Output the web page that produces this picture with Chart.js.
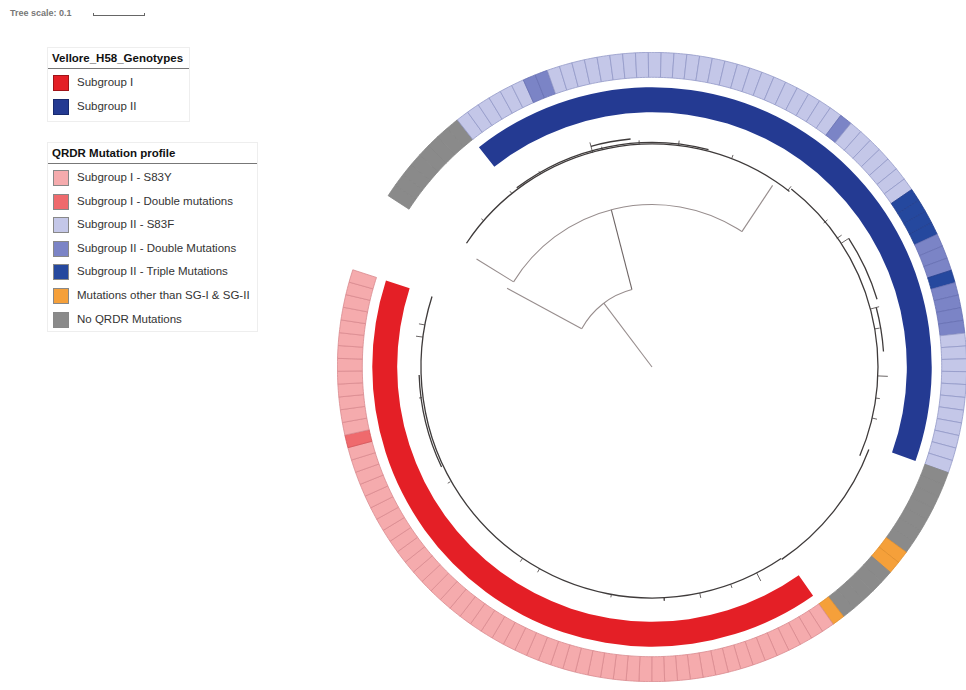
<!DOCTYPE html>
<html>
<head>
<meta charset="utf-8">
<script src="https://cdn.jsdelivr.net/npm/chart.js@4.4.1/dist/chart.umd.min.js"></script>
<style>
  html, body { margin: 0; padding: 0; background: #fff; }
  body { width: 966px; height: 690px; position: relative; overflow: hidden; font-family: "Liberation Sans", Arial, sans-serif; color: #333; }
  .stack { position: absolute; left: 337px; top: 52px; width: 630px; height: 630px; }
  .stack canvas { position: absolute; left: 0; top: 0; }
  #scale { position: absolute; left: 10px; top: 8px; font-size: 9px; font-weight: bold; color: #777; }
  #scale .bar { position: absolute; left: 83px; top: 5px; width: 50px; height: 2px; border-bottom: 1px solid #666; border-left: 1px solid #666; border-right: 1px solid #666; }
  .legend { position: absolute; border: 1px solid #eee; background: #fff; }
  .legend .title { font-size: 11.5px; font-weight: bold; color: #111; padding: 4px 0 4px 4px; border-bottom: 1.5px solid #777; margin-bottom: 2px; }
  .legend .item { position: relative; height: 23.6px; font-size: 11.5px; }
  .legend .sw { position: absolute; left: 5px; top: 4px; width: 14px; height: 14px; border: 1px solid #666; }
  .legend .lbl { position: absolute; left: 29px; top: 5px; white-space: nowrap; }
</style>
</head>
<body>
<div id="scale">Tree scale: 0.1<div class="bar"></div></div>
<div class="legend" id="legGeno" style="left:47px; top:47px; width:141px; height:73px;"></div>
<div class="legend" id="legQrdr" style="left:47px; top:142px; width:209px; height:188px;"></div>
<div class="stack">
  <canvas id="rings" width="630" height="630"></canvas>
  <canvas id="tree" width="630" height="630"></canvas>
</div>
<script>
// ---- data ----
const genotypeLabels = ['Subgroup I', 'Subgroup II'];
const profileLabels = ['Subgroup I - S83Y', 'Subgroup I - Double mutations', 'Subgroup II - S83F',
  'Subgroup II - Double Mutations', 'Subgroup II - Triple Mutations',
  'Mutations other than SG-I & SG-II', 'No QRDR Mutations'];

// QRDR profile of the leaves, in tree order: [profile index, number of leaves]
const profileRuns = [
  [6, 8], [2, 6], [3, 2], [2, 24], [3, 1], [2, 7], [4, 4], [3, 3], [4, 1], [3, 4],
  [2, 11], [6, 7], [5, 2], [6, 5], [5, 1], [0, 47], [1, 1], [0, 13]
];
// genotype of the leaves, same order: [genotype index or -1, number of leaves]
const genotypeRuns = [[-1, 8], [1, 63], [-1, 15], [0, 61]];

// tree: radial branches [leaf position, start depth, end depth] (depth in substitutions/site)
const branches = [
  [8.0, 0, 0.16], [-2.4, 0.16, 0.33], [17.6, 0.16, 0.325],
  [-1.1, 0.325, 0.412], [38.1, 0.325, 0.436]
];
// tree: node arcs [depth, from leaf position, to leaf position]
const nodeArcs = [[0.16, -2.4, 17.6], [0.325, -1.1, 38.1]];
// leaf-level clade arcs
const cladeArcs = [
  [0.446, -0.2, 40], [0.449, 8, 30], [0.452, 40, 72], [0.464, 71, 86], [0.462, 86, 146.4],
  [0.458, 17.2, 21.5], [0.47, 48, 55], [0.464, 55.8, 60.5], [0.466, 128, 138]
];
// tips that stand out of the leaf circle [leaf position, start depth, end depth]
const tips = [
  [2.9, 0.446, 0.452], [7.2, 0.446, 0.452], [11.0, 0.446, 0.452], [17.2, 0.444, 0.466],
  [18.3, 0.446, 0.452], [22.4, 0.446, 0.454], [26.7, 0.446, 0.456], [32.7, 0.446, 0.454],
  [39.8, 0.446, 0.456], [45.1, 0.448, 0.458], [47.3, 0.45, 0.462], [48, 0.452, 0.47],
  [55.8, 0.452, 0.47], [58, 0.452, 0.462], [63.1, 0.452, 0.472], [65.5, 0.452, 0.46],
  [67.7, 0.452, 0.462], [89, 0.462, 0.48], [92, 0.462, 0.47], [95.4, 0.462, 0.472],
  [99.2, 0.462, 0.468], [104.8, 0.462, 0.468], [112.9, 0.462, 0.47], [115, 0.462, 0.47],
  [126.2, 0.464, 0.47], [135.6, 0.464, 0.47], [142, 0.462, 0.476], [143.3, 0.462, 0.474]
];

// ---- styles / layout ----
const genotypeColors = ['#e41f26', '#243a92'];
const profileColors = ['#f5abad', '#ef6a6d', '#c4c7e8', '#7b84c6', '#25489e', '#f5a03a', '#8a8a8a'];
const profileBorders = ['#d98a8f', '#d65358', '#9399c8', '#6770b2', '#233f8e', '#e08e2c', '#858585'];
const ROTATION = 303;      // degrees clockwise from 12 o'clock
const CIRCUMFERENCE = 345;
const TREE_RADIUS = 0.63;  // tree units from centre to canvas edge

// ---- legends ----
function buildLegend(id, title, labels, colors, borders) {
  const box = document.getElementById(id);
  box.innerHTML = '<div class="title">' + title + '</div>';
  labels.forEach((l, i) => {
    const it = document.createElement('div');
    it.className = 'item';
    it.innerHTML = '<div class="sw" style="background:' + colors[i] + ';border-color:' + borders[i] + '"></div>' +
      '<div class="lbl"></div>';
    it.querySelector('.lbl').textContent = l;
    box.appendChild(it);
  });
}
buildLegend('legGeno', 'Vellore_H58_Genotypes', genotypeLabels, genotypeColors, ['#a01419', '#182a6e']);
buildLegend('legQrdr', 'QRDR Mutation profile', profileLabels, profileColors, profileBorders.map(() => '#888'));

// ---- rings ----
const leafProfile = [];
profileRuns.forEach(([p, n]) => { for (let i = 0; i < n; i++) leafProfile.push(p); });
const N = leafProfile.length;
const STEP = CIRCUMFERENCE / N;

new Chart(document.getElementById('rings'), {
  type: 'doughnut',
  data: {
    datasets: [
      {
        data: leafProfile.map(() => 1),
        backgroundColor: leafProfile.map(p => profileColors[p]),
        borderColor: leafProfile.map(p => profileBorders[p]),
        borderWidth: 0.8,
        weight: 25
      },
      { data: [1], backgroundColor: 'rgba(0,0,0,0)', borderWidth: 0, weight: 10 },
      {
        data: genotypeRuns.map(r => r[1]),
        backgroundColor: genotypeRuns.map(r => r[0] < 0 ? 'rgba(0,0,0,0)' : genotypeColors[r[0]]),
        borderWidth: 0,
        weight: 25
      }
    ]
  },
  options: {
    responsive: false,
    animation: false,
    events: [],
    rotation: ROTATION,
    circumference: CIRCUMFERENCE,
    cutout: '81%',
    layout: { padding: 0 },
    plugins: { legend: { display: false }, tooltip: { enabled: false } }
  }
});

// ---- tree ----
function angleOf(pos) { return (ROTATION + (pos + 0.5) * STEP) * Math.PI / 180; }
function polar(pos, d) { const a = angleOf(pos); return { x: d * Math.sin(a), y: d * Math.cos(a) }; }

const datasets = [];
branches.forEach((b, i) => datasets.push({
  data: [polar(b[0], b[1]), polar(b[0], b[2])],
  showLine: true, pointRadius: 0, borderWidth: 1.1,
  borderColor: i === 2 ? '#6d6464' : '#978d8d'
}));
tips.forEach(t => datasets.push({
  data: [polar(t[0], t[1]), polar(t[0], t[2])],
  showLine: true, pointRadius: 0, borderWidth: 0.9, borderColor: '#5a5555'
}));

const arcPlugin = {
  id: 'treeArcs',
  afterDatasetsDraw(chart) {
    const xs = chart.scales.x, ys = chart.scales.y, ctx = chart.ctx;
    const cx = xs.getPixelForValue(0), cy = ys.getPixelForValue(0);
    const draw = (list, color, width) => {
      ctx.save();
      ctx.strokeStyle = color;
      ctx.lineWidth = width;
      list.forEach(([d, p0, p1]) => {
        const r = xs.getPixelForValue(d) - cx;
        ctx.beginPath();
        ctx.arc(cx, cy, r, angleOf(p0) - Math.PI / 2, angleOf(p1) - Math.PI / 2, false);
        ctx.stroke();
      });
      ctx.restore();
    };
    draw(nodeArcs, '#978d8d', 1.1);
    draw(cladeArcs, '#3f3b3b', 1.3);
  }
};

new Chart(document.getElementById('tree'), {
  type: 'scatter',
  data: { datasets },
  options: {
    responsive: false,
    animation: false,
    events: [],
    layout: { padding: 0 },
    scales: {
      x: { type: 'linear', min: -TREE_RADIUS, max: TREE_RADIUS, display: false },
      y: { type: 'linear', min: -TREE_RADIUS, max: TREE_RADIUS, display: false }
    },
    plugins: { legend: { display: false }, tooltip: { enabled: false } }
  },
  plugins: [arcPlugin]
});
</script>
</body>
</html>
